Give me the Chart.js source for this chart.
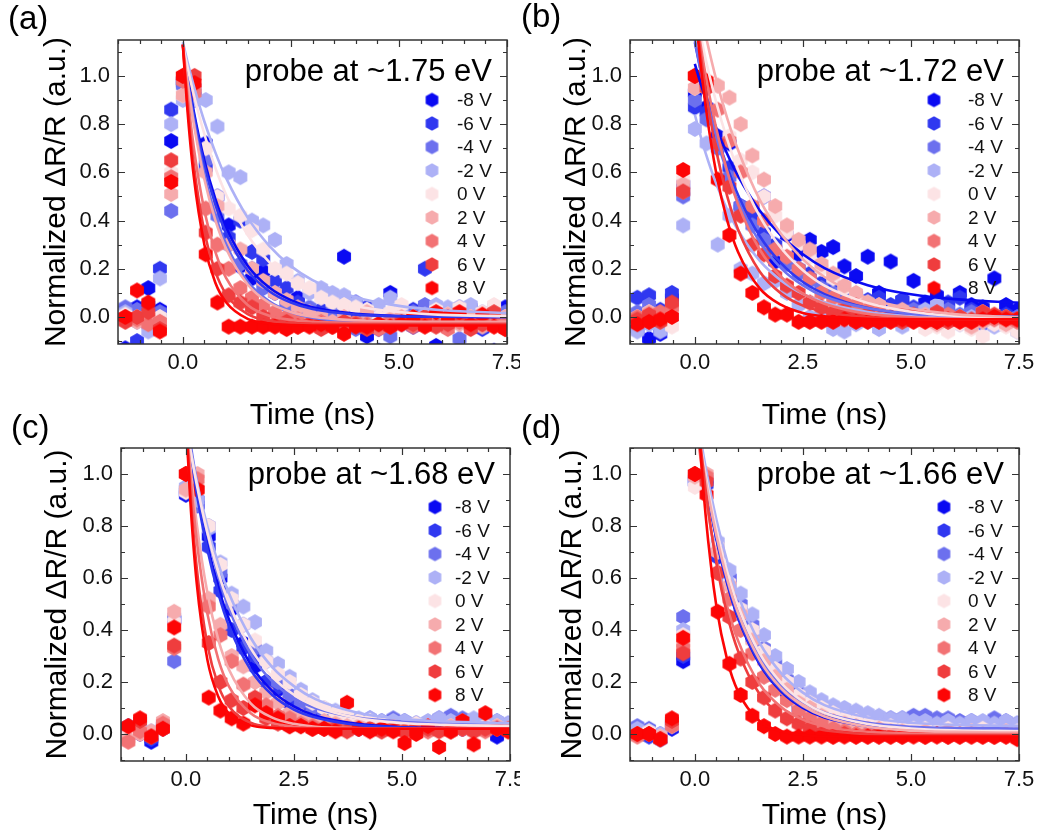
<!DOCTYPE html>
<html><head><meta charset="utf-8">
<script src="https://cdn.jsdelivr.net/npm/chart.js@4.4.0/dist/chart.umd.min.js"></script>
<style>
html,body{margin:0;padding:0;background:#fff;}
body{width:1040px;height:837px;position:relative;overflow:hidden;}
canvas{position:absolute;}
</style></head><body>
<canvas id="ca" width="520" height="440" style="left:0;top:0"></canvas>
<canvas id="cb" width="520" height="440" style="left:520px;top:0"></canvas>
<canvas id="cc" width="520" height="437" style="left:0;top:400px"></canvas>
<canvas id="cd" width="520" height="437" style="left:520px;top:400px"></canvas>
<script>
// ---------------- data ----------------
const VOLTAGES = ['-8 V','-6 V','-4 V','-2 V','0 V','2 V','4 V','6 V','8 V'];
const TIMES = [-1.33,-1.06,-0.8,-0.53,-0.27,0,0.27,0.53,0.8,1.06,1.33,1.6,1.86,2.13,2.4,2.66,2.93,3.2,3.46,3.73,4,4.26,4.53,4.8,5.06,5.33,5.6,5.86,6.13,6.4,6.66,6.93,7.2,7.46];
const FIT_TIMES = [0,0.1,0.25,0.5,0.75,1,1.5,2,2.5,3,4,5,6,7.5];
const X_TICKS = [0,2.5,5,7.5];
const Y_TICKS = [0,0.2,0.4,0.6,0.8,1.0];
const PROBES = ['probe at ~1.75 eV','probe at ~1.72 eV','probe at ~1.68 eV','probe at ~1.66 eV'];
const PANEL_LABELS = ['(a)','(b)','(c)','(d)'];

const A_POINTS = [
 [-0.13,0.04,0.12,0.03,0.73, 0.98,0.95,0.72,0.50,0.38,0.21,0.16,0.19,0.10,0.05, 0.08,0.03,0.00,-0.02,0.25,0.06,-0.08,-0.14,0.10,0.02, -0.04,0.04,-0.12,0.01,-0.02,0.03,-0.04,-0.14,0.04],
 [0.03,-0.10,0.05,0.20,0.86, 0.97,0.93,0.62,0.45,0.33,0.40,0.27,0.24,0.15,0.12, 0.06,0.02,0.03,0.00,-0.03,0.02,0.04,-0.05,0.00,-0.02, 0.03,0.20,0.00,-0.02,0.04,0.01,-0.05,0.02,0.00],
 [0.04,0.03,-0.03,0.02,0.44, 0.96,0.90,0.65,0.42,0.30,0.22,0.20,0.12,0.10,0.05, 0.03,0.04,0.00,0.02,-0.02,-0.05,0.02,0.00,-0.08,-0.03, 0.02,0.05,-0.02,0.03,-0.09,0.04,0.01,-0.03,0.02],
 [0.02,-0.02,-0.06,0.16,0.80, 0.90,0.90,0.90,0.79,0.60,0.58,0.40,0.38,0.32,0.22, 0.15,0.10,0.12,0.10,0.09,0.06,0.03,0.05,0.08,0.03, -0.02,0.01,0.05,0.04,0.00,0.05,0.02,0.04,-0.04],
 [0.01,0.00,-0.02,0.00,0.60, 0.92,0.95,0.70,0.50,0.45,0.42,0.36,0.28,0.20,0.18, 0.14,0.12,0.08,0.06,0.05,0.04,0.03,0.00,0.02,0.05, 0.00,-0.02,0.03,0.01,0.04,0.00,0.02,0.05,0.00],
 [0.00,-0.02,0.00,-0.02,0.51, 0.92,0.95,0.60,0.46,0.30,0.28,0.20,0.15,0.10,0.07, 0.04,0.02,0.00,-0.02,0.00,-0.03,0.02,-0.04,-0.01,0.00, -0.03,0.00,-0.02,0.01,-0.03,0.00,-0.04,-0.02,0.00],
 [0.00,-0.01,-0.03,-0.02,0.58, 0.98,0.93,0.45,0.30,0.20,0.12,0.08,0.05,0.02,0.00, -0.01,-0.03,-0.02,-0.04,-0.03,-0.02,-0.03,-0.05,-0.02,-0.03, -0.04,-0.02,-0.03,-0.05,-0.02,-0.04,-0.03,-0.02,-0.03],
 [-0.02,0.00,0.02,-0.05,0.65, 1.00,1.00,0.35,0.20,0.09,0.06,0.04,0.00,-0.03,-0.02, -0.04,-0.03,-0.05,-0.04,-0.02,-0.03,-0.05,-0.03,-0.04,-0.02, -0.03,0.00,-0.04,-0.03,0.00,-0.05,-0.03,0.02,-0.05],
 [0.00,0.11,0.06,-0.06,0.56, 1.00,0.97,0.26,0.06,-0.04,-0.04,-0.04,-0.04,-0.04,-0.05, -0.04,-0.04,-0.03,-0.04,-0.07,-0.04,-0.04,-0.03,-0.04,-0.03, 0.00,-0.04,0.02,0.00,0.02,-0.03,0.01,-0.04,-0.05]
];
const A_FITS = [
 [1.13,1.01,0.856,0.648,0.491,0.372,0.213,0.122,0.070,0.040,0.013,0.004,0.001,0.0],
 [1.13,1.005,0.842,0.627,0.468,0.348,0.193,0.107,0.060,0.033,0.010,0.003,0.001,0.0],
 [1.13,0.993,0.819,0.591,0.425,0.303,0.147,0.065,0.021,-0.003,-0.022,-0.028,-0.03,-0.03],
 [1.14,1.064,0.961,0.810,0.684,0.577,0.412,0.295,0.211,0.153,0.082,0.046,0.028,0.016],
 [1.13,1.043,0.925,0.757,0.620,0.508,0.340,0.228,0.153,0.103,0.046,0.021,0.009,0.003],
 [1.13,0.986,0.805,0.570,0.403,0.284,0.135,0.059,0.021,0.001,-0.014,-0.019,-0.02,-0.02],
 [1.13,0.938,0.708,0.440,0.271,0.162,0.050,0.005,-0.012,-0.020,-0.024,-0.025,-0.025,-0.025],
 [1.13,0.899,0.636,0.352,0.189,0.095,0.012,-0.016,-0.025,-0.028,-0.03,-0.03,-0.03,-0.03],
 [1.13,0.873,0.588,0.299,0.143,0.061,-0.008,-0.027,-0.033,-0.035,-0.035,-0.035,-0.035,-0.035]
];

const B_POINTS = [
 [-0.05,-0.09,-0.07,0.08,0.55, 0.93,0.87,0.75,0.72,0.46,0.45,0.50,0.23,0.34,0.26, 0.32,0.27,0.29,0.21,0.17,0.25,0.10,0.23,0.07,0.15, 0.06,0.09,0.04,0.10,0.05,0.04,0.16,0.05,0.03],
 [0.08,0.09,0.03,0.10,0.52, 0.87,0.85,0.72,0.62,0.45,0.42,0.35,0.30,0.24,0.20, 0.18,0.14,0.13,0.10,0.09,0.07,0.08,0.05,0.07,0.04, 0.03,0.05,0.06,0.08,0.03,0.02,0.00,0.01,0.00],
 [0.02,0.05,0.00,0.05,0.50, 0.90,0.82,0.70,0.58,0.46,0.38,0.32,0.28,0.22,0.18, 0.15,0.12,0.10,0.08,0.05,0.04,0.05,0.02,0.00,0.03, 0.00,-0.02,0.03,0.01,0.02,-0.03,0.00,-0.02,0.00],
 [-0.06,-0.03,-0.06,0.00,0.38, 0.78,0.72,0.30,0.42,0.20,0.18,0.14,0.15,0.10,0.05, 0.00,0.02,-0.05,-0.06,-0.03,-0.02,-0.05,0.02,-0.04,0.00, 0.03,0.05,-0.02,-0.03,0.00,0.02,-0.04,0.00,-0.06],
 [0.00,0.02,-0.01,-0.04,0.57, 0.95,0.97,0.96,0.75,0.65,0.60,0.50,0.42,0.35,0.30, 0.25,0.20,0.16,0.12,0.08,0.06,0.04,0.02,0.00,-0.02, -0.05,-0.04,-0.06,-0.03,-0.05,-0.08,-0.03,-0.04,-0.06],
 [-0.01,0.02,0.00,0.03,0.55, 0.95,0.95,0.96,0.91,0.80,0.67,0.57,0.46,0.38,0.32, 0.28,0.22,0.18,0.13,0.10,0.06,0.05,0.02,0.03,0.00, 0.01,-0.03,-0.02,0.00,-0.04,-0.02,0.00,-0.03,-0.01],
 [0.00,-0.02,0.02,0.04,0.52, 1.00,0.97,0.86,0.73,0.60,0.46,0.40,0.28,0.25,0.20, 0.16,0.10,0.08,0.06,0.05,0.03,0.02,0.00,0.01,-0.01, 0.00,-0.02,0.01,0.00,-0.02,0.02,-0.01,0.00,-0.02],
 [-0.01,0.01,-0.02,0.06,0.52, 1.00,0.95,0.72,0.54,0.42,0.30,0.26,0.17,0.13,0.10, 0.06,0.04,0.02,0.03,0.00,0.01,-0.01,0.00,-0.02,0.01, 0.00,0.02,-0.02,0.00,-0.01,0.02,0.01,0.00,-0.01],
 [-0.03,-0.02,-0.01,0.00,0.61, 1.00,0.98,0.57,0.34,0.18,0.10,0.04,0.01,0.01,-0.02, -0.02,-0.02,-0.02,-0.01,-0.02,-0.02,-0.02,-0.02,-0.01,-0.02, -0.02,-0.02,-0.01,-0.02,-0.02,-0.01,0.00,-0.01,-0.01]
];
const B_FITS = [
 [1.05,0.989,0.905,0.782,0.676,0.585,0.442,0.337,0.260,0.203,0.132,0.094,0.074,0.059],
 [1.14,1.052,0.932,0.761,0.621,0.506,0.336,0.222,0.145,0.095,0.037,0.011,-0.001,-0.007],
 [1.15,1.054,0.926,0.744,0.599,0.482,0.312,0.202,0.131,0.085,0.036,0.015,0.006,0.002],
 [0.84,0.772,0.680,0.550,0.445,0.360,0.234,0.151,0.096,0.060,0.021,0.003,-0.004,-0.008],
 [1.29,1.198,1.070,0.887,0.736,0.610,0.418,0.285,0.194,0.130,0.058,0.022,0.005,-0.005],
 [1.39,1.296,1.169,0.981,0.824,0.693,0.487,0.343,0.239,0.166,0.078,0.035,0.012,-0.002],
 [1.29,1.167,1.003,0.779,0.604,0.468,0.280,0.166,0.097,0.055,0.013,-0.001,-0.007,-0.01],
 [1.29,1.137,0.942,0.686,0.500,0.363,0.189,0.097,0.047,0.021,-0.001,-0.008,-0.01,-0.01],
 [1.29,1.104,0.875,0.592,0.400,0.270,0.119,0.050,0.017,0.003,-0.007,-0.01,-0.01,-0.01]
];

const C_POINTS = [
 [0.02,0.00,-0.03,0.02,0.44, 0.92,0.88,0.76,0.60,0.48,0.35,0.26,0.20,0.17,0.12, 0.10,0.07,0.05,0.04,0.03,0.02,0.03,0.02,0.03,0.02, 0.03,0.02,0.02,0.03,0.02,0.03,0.02,-0.01,0.03],
 [0.03,0.01,-0.02,0.03,0.44, 0.93,0.90,0.72,0.55,0.40,0.33,0.30,0.20,0.18,0.13, 0.10,0.08,0.06,0.05,0.04,0.04,0.03,0.04,0.03,0.03, 0.04,0.03,0.04,0.03,0.02,0.03,0.04,0.02,0.03],
 [0.02,0.02,0.00,0.03,0.28, 0.94,0.88,0.80,0.62,0.50,0.42,0.33,0.28,0.20,0.15, 0.12,0.10,0.08,0.06,0.05,0.05,0.06,0.05,0.06,0.05, 0.04,0.04,0.06,0.07,0.06,0.05,0.06,0.05,0.04],
 [0.02,0.03,0.01,0.04,0.45, 0.95,0.90,0.79,0.66,0.54,0.49,0.43,0.32,0.27,0.22, 0.17,0.13,0.10,0.09,0.07,0.06,0.06,0.05,0.05,0.05, 0.04,0.05,0.06,0.05,0.05,0.06,0.05,0.05,0.04],
 [0.00,0.01,0.00,0.02,0.43, 0.93,0.95,0.80,0.65,0.52,0.42,0.36,0.28,0.23,0.20, 0.15,0.12,0.10,0.08,0.07,0.05,0.05,0.04,0.03,0.03, 0.04,0.03,0.02,0.03,0.03,0.02,0.03,0.03,0.02],
 [-0.02,0.00,0.01,0.05,0.47, 0.94,1.00,0.52,0.42,0.30,0.26,0.20,0.16,0.12,0.08, 0.07,0.05,0.05,0.04,0.03,0.03,0.02,0.02,0.03,0.02, 0.02,0.01,0.02,0.03,0.02,0.01,0.02,0.03,0.02],
 [-0.03,0.01,-0.01,0.04,0.33, 1.00,0.98,0.49,0.38,0.28,0.19,0.13,0.11,0.07,0.06, 0.04,0.03,0.02,0.03,0.02,0.02,0.02,0.01,0.02,0.01, 0.02,0.01,0.02,0.01,0.02,0.02,0.01,0.02,0.01],
 [0.03,0.05,-0.01,0.02,0.34, 1.00,0.94,0.35,0.20,0.13,0.10,0.14,0.06,0.04,0.03, 0.03,0.02,0.02,0.02,0.01,0.02,0.02,0.01,0.02,0.01, 0.02,0.02,0.01,0.01,0.02,0.01,0.02,0.02,0.02],
 [0.03,0.06,-0.01,0.02,0.41, 1.00,0.94,0.14,0.09,0.06,0.04,0.11,0.08,0.06,0.03, 0.03,0.02,0.02,0.01,0.12,0.02,0.01,0.02,0.01,-0.035, 0.00,0.03,-0.05,0.01,0.05,-0.04,0.08,0.02,0.01]
];
const C_FITS = [
 [1.22,1.10,0.943,0.729,0.565,0.439,0.267,0.166,0.106,0.070,0.038,0.026,0.022,0.02],
 [1.22,1.094,0.928,0.709,0.542,0.415,0.247,0.150,0.094,0.063,0.034,0.025,0.021,0.02],
 [1.24,1.126,0.975,0.768,0.606,0.482,0.308,0.202,0.138,0.100,0.062,0.048,0.043,0.041],
 [1.19,1.098,0.974,0.798,0.655,0.540,0.370,0.257,0.184,0.134,0.081,0.058,0.048,0.042],
 [1.20,1.098,0.962,0.773,0.622,0.502,0.330,0.220,0.151,0.106,0.060,0.042,0.035,0.031],
 [1.22,1.035,0.811,0.542,0.364,0.247,0.118,0.063,0.039,0.028,0.022,0.02,0.02,0.02],
 [1.22,1.003,0.748,0.462,0.288,0.182,0.080,0.042,0.028,0.023,0.02,0.02,0.02,0.02],
 [1.22,0.943,0.642,0.342,0.187,0.106,0.043,0.026,0.021,0.02,0.02,0.02,0.02,0.02],
 [1.22,0.907,0.583,0.284,0.144,0.078,0.033,0.023,0.02,0.02,0.02,0.02,0.02,0.02]
];

const D_POINTS = [
 [0.02,0.00,-0.02,0.02,0.28, 0.97,0.98,0.70,0.60,0.46,0.38,0.30,0.22,0.16,0.12, 0.08,0.06,0.04,0.03,0.02,0.02,0.01,0.02,0.01,0.02, 0.01,0.02,0.03,0.02,0.01,0.02,0.01,0.02,0.01],
 [0.01,-0.01,-0.02,0.03,0.30, 0.98,0.96,0.68,0.58,0.47,0.37,0.29,0.23,0.17,0.10, 0.09,0.07,0.05,0.04,0.04,0.05,0.04,0.05,0.04,0.05, 0.06,0.05,0.04,0.03,0.04,0.03,0.04,0.03,0.02],
 [0.03,0.02,0.00,0.04,0.45, 0.97,0.97,0.72,0.60,0.50,0.42,0.33,0.27,0.21,0.16, 0.12,0.10,0.08,0.07,0.06,0.06,0.05,0.06,0.06,0.07, 0.07,0.06,0.06,0.05,0.05,0.04,0.06,0.05,0.04],
 [0.02,0.01,0.00,0.05,0.40, 0.97,0.99,0.74,0.63,0.54,0.46,0.38,0.30,0.25,0.20, 0.16,0.13,0.11,0.10,0.09,0.08,0.07,0.06,0.06,0.05, 0.05,0.04,0.05,0.04,0.05,0.05,0.04,0.05,0.04],
 [0.00,0.01,-0.01,0.03,0.38, 0.95,1.00,0.72,0.58,0.48,0.40,0.32,0.25,0.20,0.15, 0.12,0.10,0.08,0.06,0.05,0.04,0.03,0.03,0.02,0.02, 0.02,0.01,0.02,0.01,0.01,0.02,0.01,0.01,0.01],
 [0.00,0.00,-0.01,0.04,0.35, 0.99,1.00,0.70,0.57,0.46,0.36,0.28,0.22,0.17,0.12, 0.10,0.07,0.05,0.04,0.03,0.02,0.02,0.01,0.01,0.00, 0.01,0.00,0.01,0.00,0.01,0.00,0.00,0.01,0.00],
 [-0.01,0.00,-0.02,0.03,0.33, 1.00,0.99,0.62,0.52,0.40,0.31,0.22,0.17,0.13,0.09, 0.06,0.04,0.02,0.01,0.00,0.00,-0.01,0.00,-0.01,0.00, -0.01,0.00,-0.01,0.00,-0.01,0.00,-0.01,-0.01,-0.01],
 [0.00,0.00,-0.02,0.05,0.31, 1.00,0.97,0.62,0.45,0.29,0.20,0.14,0.09,0.06,0.04, 0.02,0.00,-0.01,0.00,-0.01,-0.01,0.00,-0.01,-0.01,0.00, -0.01,0.00,-0.01,-0.01,0.00,-0.01,-0.01,0.00,-0.01],
 [0.00,0.00,-0.02,0.06,0.37, 1.00,0.92,0.47,0.27,0.15,0.07,0.03,0.00,-0.01,-0.01, -0.01,-0.01,-0.01,-0.01,-0.01,-0.01,-0.01,-0.01,-0.01,-0.01, -0.01,-0.01,-0.01,-0.01,-0.01,-0.01,-0.01,-0.01,-0.02]
];
const D_FITS = [
 [1.26,1.135,0.971,0.749,0.578,0.446,0.268,0.163,0.100,0.063,0.029,0.016,0.012,0.01],
 [1.265,1.14,0.976,0.754,0.583,0.451,0.273,0.168,0.105,0.068,0.034,0.021,0.017,0.015],
 [1.27,1.151,0.994,0.779,0.610,0.480,0.299,0.189,0.123,0.082,0.043,0.028,0.023,0.021],
 [1.28,1.171,1.026,0.824,0.663,0.534,0.350,0.233,0.159,0.111,0.063,0.043,0.035,0.031],
 [1.26,1.146,0.995,0.786,0.623,0.493,0.310,0.196,0.125,0.081,0.038,0.021,0.014,0.011],
 [1.255,1.136,0.979,0.763,0.595,0.465,0.284,0.174,0.108,0.067,0.028,0.013,0.008,0.005],
 [1.25,1.103,0.915,0.669,0.490,0.359,0.191,0.103,0.055,0.029,0.008,0.002,0.0,0.0],
 [1.345,1.165,0.940,0.657,0.458,0.319,0.153,0.072,0.033,0.014,-0.001,-0.005,-0.005,-0.005],
 [1.44,1.162,0.841,0.490,0.284,0.163,0.049,0.010,-0.003,-0.01,-0.01,-0.01,-0.01,-0.01]
];

// ---------------- styles ----------------
const COLORS = ['#0a0af2','#3038f0','#6c70ee','#adb1f6','#fce3e5','#f6abad','#f27274','#ef3d3e','#fd0505'];
const FONT = "'Liberation Sans', Arial, sans-serif";
Chart.defaults.font.family = FONT;

function hexImg(color, r) {
  const w = Math.ceil(r * Math.sqrt(3)) + 2, h = Math.ceil(2 * r) + 2;
  const c = document.createElement('canvas'); c.width = w; c.height = h;
  const g = c.getContext('2d');
  g.beginPath();
  for (let k = 0; k < 6; k++) {
    const a = Math.PI / 2 + k * Math.PI / 3;
    const x = w / 2 + r * Math.cos(a), y = h / 2 - r * Math.sin(a);
    if (k) g.lineTo(x, y); else g.moveTo(x, y);
  }
  g.closePath(); g.fillStyle = color; g.fill();
  return c;
}
const HEX = COLORS.map(c => hexImg(c, 8));
const HEX_LEG = COLORS.map(c => hexImg(c, 7.3));

const PANELS = [
  {id:'ca', W:520, H:440, area:{l:118,t:40,r:507,b:344}, ymin:-0.112, ymax:1.149, pts:A_POINTS, fits:A_FITS,
   ytPad:39, xtPad:6, leg:{mx:75, tx:50, y0:60}, probeY:32, lab:{x:8, y:20}},
  {id:'cb', W:520, H:440, area:{l:110,t:40,r:499,b:344}, ymin:-0.112, ymax:1.149, pts:B_POINTS, fits:B_FITS,
   ytPad:39, xtPad:6, leg:{mx:85, tx:51, y0:60}, probeY:32, lab:{x:1, y:18}},
  {id:'cc', W:520, H:437, area:{l:121,t:48,r:510,b:361}, ymin:-0.104, ymax:1.1, pts:C_POINTS, fits:C_FITS,
   ytPad:40, xtPad:3, leg:{mx:75, tx:55, y0:59}, probeY:27, lab:{x:11, y:29}},
  {id:'cd', W:520, H:437, area:{l:110,t:48,r:499,b:361}, ymin:-0.104, ymax:1.1, pts:D_POINTS, fits:D_FITS,
   ytPad:35, xtPad:3, leg:{mx:75, tx:51, y0:59}, probeY:27, lab:{x:1, y:29}}
];

function decorPlugin(p, idx) {
  return {
    id: 'decor' + idx,
    afterDatasetsDraw(chart) {
      const ctx = chart.ctx; const {left, right, top, bottom} = chart.chartArea;
      const xs = chart.scales.x, ys = chart.scales.y;
      ctx.save();
      ctx.strokeStyle = '#333'; ctx.lineWidth = 1.2;
      ctx.beginPath();
      for (let k = -3; k <= 15; k++) {
        const v = k * 0.5;
        const px = Math.round(xs.getPixelForValue(v)) + 0.5;
        const L = (k % 5 === 0) ? 7 : 4;
        ctx.moveTo(px, bottom); ctx.lineTo(px, bottom - L);
        ctx.moveTo(px, top); ctx.lineTo(px, top + L);
      }
      for (let k = -1; k <= 11; k++) {
        const v = k * 0.1;
        if (v < p.ymin || v > p.ymax) continue;
        const py = Math.round(ys.getPixelForValue(v)) + 0.5;
        const L = (k % 2 === 0) ? 7 : 4;
        ctx.moveTo(left, py); ctx.lineTo(left + L, py);
        ctx.moveTo(right, py); ctx.lineTo(right - L, py);
      }
      ctx.stroke();
      ctx.lineWidth = 1.5;
      ctx.strokeRect(left, top, right - left, bottom - top);
      ctx.restore();
    },
    afterDraw(chart) {
      const ctx = chart.ctx; const {right, top} = chart.chartArea;
      ctx.save();
      // legend
      ctx.font = '19px ' + FONT; ctx.fillStyle = '#111';
      ctx.textAlign = 'left'; ctx.textBaseline = 'middle';
      VOLTAGES.forEach((v, i) => {
        const y = top + p.leg.y0 + i * 23.5;
        const im = HEX_LEG[i];
        ctx.drawImage(im, right - p.leg.mx - im.width / 2, y - im.height / 2);
        ctx.fillText(v, right - p.leg.tx, y + 1);
      });
      // probe text
      ctx.font = '31px ' + FONT; ctx.fillStyle = '#000'; ctx.textAlign = 'right';
      ctx.fillText(PROBES[idx], right - 15, top + p.probeY);
      // panel label
      ctx.font = '33px ' + FONT; ctx.textAlign = 'left';
      ctx.fillText(PANEL_LABELS[idx], p.lab.x, p.lab.y);
      ctx.restore();
    }
  };
}

PANELS.forEach((p, idx) => {
  const datasets = [];
  VOLTAGES.forEach((v, i) => {
    datasets.push({
      label: v, data: TIMES.map((t, k) => ({x: t, y: p.pts[i][k]})),
      pointStyle: HEX[i], pointRadius: 7, pointHoverRadius: 7,
      backgroundColor: COLORS[i], borderColor: COLORS[i], showLine: false,
      order: 100 + (8 - i)
    });
  });
  VOLTAGES.forEach((v, i) => {
    datasets.push({
      label: v + ' fit', data: FIT_TIMES.map((t, k) => ({x: t, y: p.fits[i][k]})),
      showLine: true, borderColor: COLORS[i], backgroundColor: COLORS[i], borderWidth: 2.6,
      pointRadius: 0, pointHoverRadius: 0, fill: false, cubicInterpolationMode: 'monotone',
      order: 10 + (8 - i)
    });
  });
  new Chart(document.getElementById(p.id), {
    type: 'scatter',
    data: {datasets},
    options: {
      responsive: false, animation: false, devicePixelRatio: 1,
      layout: {padding: {top: p.area.t, right: p.W - p.area.r, left: 0, bottom: 0}},
      plugins: {legend: {display: false}, tooltip: {enabled: false}},
      scales: {
        x: {
          type: 'linear', min: -1.5, max: 7.5,
          grid: {display: false, drawTicks: false}, border: {display: false},
          afterBuildTicks: s => { s.ticks = X_TICKS.map(v => ({value: v})); },
          afterFit: s => { s.height = p.H - p.area.b; s.paddingLeft = 0; s.paddingRight = 0; },
          ticks: {autoSkip: false, maxRotation: 0, padding: 6, color: '#111', font: {size: 22}, callback: v => Number(v).toFixed(1)},
          title: {display: true, text: 'Time (ns)', color: '#000', font: {size: 30}, padding: {top: 0, bottom: p.xtPad}}
        },
        y: {
          type: 'linear', min: p.ymin, max: p.ymax,
          grid: {display: false, drawTicks: false}, border: {display: false},
          afterBuildTicks: s => { s.ticks = Y_TICKS.map(v => ({value: v})); },
          afterFit: s => { s.width = p.area.l; s.paddingTop = 0; s.paddingBottom = 0; },
          ticks: {autoSkip: false, padding: 8, color: '#111', font: {size: 22}, callback: v => Number(v).toFixed(1)},
          title: {display: true, text: 'Normalized ΔR/R (a.u.)', color: '#000', font: {size: 30}, padding: {top: p.ytPad, bottom: 0}}
        }
      }
    },
    plugins: [decorPlugin(p, idx)]
  });
});
</script>
</body></html>
